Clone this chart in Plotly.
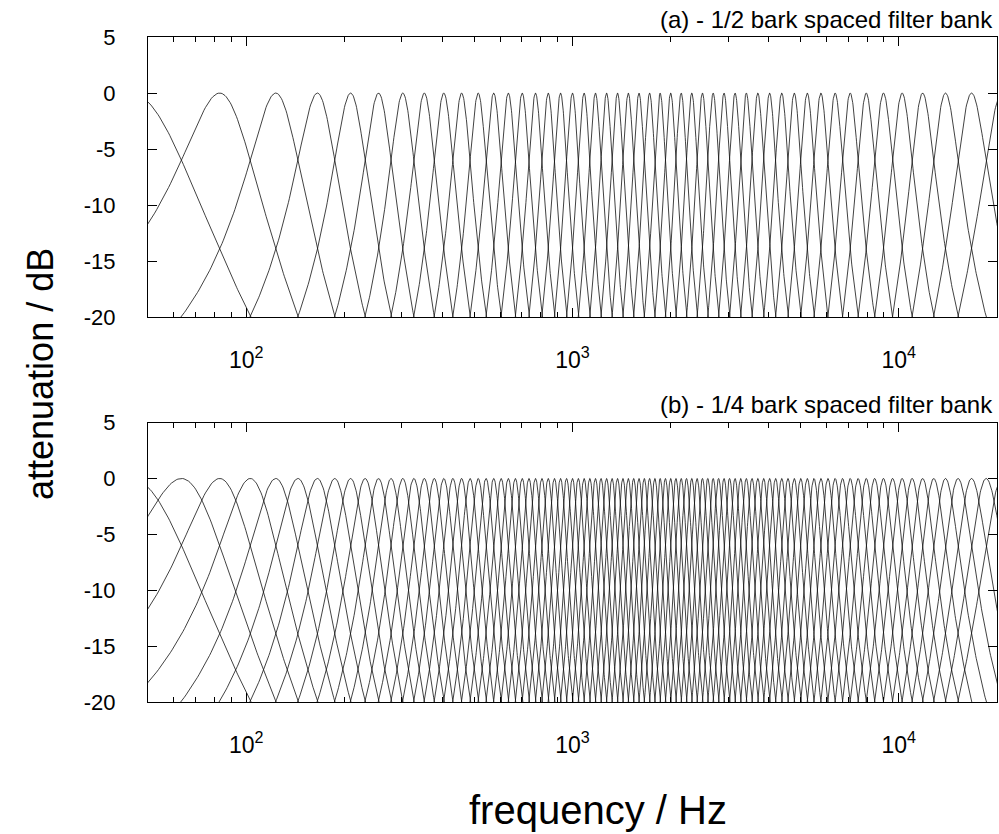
import numpy as np
import plotly.graph_objects as go

# Centre frequencies (Hz)
centres_half_bark = [44.1, 82.9, 123.2, 165.2, 208.9, 254.4, 301.9, 351.4, 403.2, 457.3,
                     514.0, 573.4, 635.7, 701.2, 770.0, 842.5, 919.0, 999.8, 1085.2, 1175.7,
                     1271.7, 1373.8, 1482.6, 1598.7, 1722.9, 1856.1, 1999.3, 2153.6, 2320.5, 2501.5,
                     2698.5, 2913.6, 3149.7, 3409.7, 3697.6, 4018.1, 4377.1, 4782.1, 5242.3, 5769.9,
                     6380.9, 7096.8, 7947.2, 8973.8, 10237.7, 11832.0, 13905.8, 16713.6, 20729.0]

centres_quarter_bark = [44.1, 63.3, 82.9, 102.9, 123.2, 144.0, 165.2, 186.8, 208.9, 231.4,
                        254.4, 277.9, 301.9, 326.4, 351.4, 377.0, 403.2, 429.9, 457.3, 485.3,
                        514.0, 543.3, 573.4, 604.2, 635.7, 668.0, 701.2, 735.2, 770.0, 805.8,
                        842.5, 880.3, 919.0, 958.8, 999.8, 1041.9, 1085.2, 1129.8, 1175.7, 1223.0,
                        1271.7, 1322.0, 1373.8, 1427.3, 1482.6, 1539.7, 1598.7, 1659.7, 1722.9, 1788.3,
                        1856.1, 1926.4, 1999.3, 2075.0, 2153.6, 2235.4, 2320.5, 2409.1, 2501.5, 2597.8,
                        2698.5, 2803.6, 2913.6, 3028.9, 3149.7, 3276.5, 3409.7, 3549.9, 3697.6, 3853.4,
                        4018.1, 4192.4, 4377.1, 4573.3, 4782.1, 5004.6, 5242.3, 5496.7, 5769.9, 6063.8,
                        6380.9, 6724.1, 7096.8, 7502.9, 7947.2, 8435.2, 8973.8, 9571.2, 10237.7, 10986.0,
                        11832.0, 12796.4, 13905.8, 15195.6, 16713.6, 18526.4, 20728.9]

filter_width_bark = 0.25

x_tickvals = [100, 1000, 10000]
x_ticktext = ["10<sup>2</sup>", "10<sup>3</sup>", "10<sup>4</sup>"]
x_minor = [60, 70, 80, 90, 200, 300, 400, 500, 600, 700, 800, 900,
           2000, 3000, 4000, 5000, 6000, 7000, 8000, 9000]
y_tickvals = [5, 0, -5, -10, -15, -20]
y_ticktext = ["5", "0", "-5", "-10", "-15", "-20"]

titles = ["(a) - 1/2 bark spaced filter bank", "(b) - 1/4 bark spaced filter bank"]


def bark(f):
    return 26.81 * f / (1960.0 + f) - 0.53


def hz(z):
    return 1960.0 * (z + 0.53) / (26.28 - z)


def bank(centres):
    xs, ys = [], []
    for fc in centres:
        zc = bark(fc)
        z = np.linspace(max(zc - 1.0, -0.45), min(zc + 1.0, 26.0), 201)
        f = hz(z)
        db = -20 * np.log10(1 + ((z - zc) / filter_width_bark) ** 2)
        xs += list(f) + [None]
        ys += list(db) + [None]
    return xs, ys


FONT = "Liberation Sans, Arial, Helvetica, sans-serif"

fig = go.Figure()
xa, ya = bank(centres_half_bark)
fig.add_trace(go.Scatter(x=xa, y=ya, mode="lines", line=dict(color="#111", width=0.8),
                         xaxis="x", yaxis="y", showlegend=False, hoverinfo="skip"))
xb, yb = bank(centres_quarter_bark)
fig.add_trace(go.Scatter(x=xb, y=yb, mode="lines", line=dict(color="#111", width=0.8),
                         xaxis="x2", yaxis="y2", showlegend=False, hoverinfo="skip"))

W, H = 999, 834
left_m, top_m, bot_m = 148, 37, 132
right_m = W - left_m - 849
ph = H - top_m - bot_m
dom_a = [1 - 280.3 / ph, 1]
dom_b = [0, 279.4 / ph]

xcommon = dict(type="log", range=[np.log10(50), np.log10(20000)],
               tickvals=x_tickvals, ticktext=x_ticktext,
               ticks="inside", ticklen=9, tickwidth=1, tickcolor="black",
               minor=dict(tickvals=x_minor, ticks="inside", ticklen=5, tickcolor="black", tickwidth=1),
               showline=True, linecolor="black", linewidth=1, mirror="allticks",
               showgrid=False, zeroline=False,
               tickfont=dict(family=FONT, size=23, color="black"),
               ticklabelstandoff=22)
ycommon = dict(range=[-20, 5], tickvals=y_tickvals, ticktext=y_ticktext,
               ticks="inside", ticklen=9, tickwidth=1, tickcolor="black",
               showline=True, linecolor="black", linewidth=1, mirror="allticks",
               showgrid=False, zeroline=False,
               tickfont=dict(family=FONT, size=22, color="black"),
               ticklabelstandoff=27)

fig.update_layout(
    width=W, height=H,
    margin=dict(l=left_m, r=right_m, t=top_m, b=bot_m, pad=0),
    paper_bgcolor="white", plot_bgcolor="white",
    xaxis=dict(domain=[0, 1], anchor="y", **xcommon),
    yaxis=dict(domain=dom_a, anchor="x", **ycommon),
    xaxis2=dict(domain=[0, 1], anchor="y2", **xcommon),
    yaxis2=dict(domain=dom_b, anchor="x2", **ycommon),
    annotations=[
        dict(text=titles[0], x=1, y=dom_a[1], xref="paper", yref="paper",
             xanchor="right", yanchor="middle", xshift=-2, yshift=18, showarrow=False,
             font=dict(family=FONT, size=24, color="black")),
        dict(text=titles[1], x=1, y=dom_b[1], xref="paper", yref="paper",
             xanchor="right", yanchor="middle", xshift=-2, yshift=18, showarrow=False,
             font=dict(family=FONT, size=24, color="black")),
        dict(text="attenuation / dB", x=(40 - 148) / 849, y=(834 - 132 - 374) / ph,
             xref="paper", yref="paper", xanchor="center", yanchor="middle",
             textangle=-90, showarrow=False, font=dict(family=FONT, size=36, color="black")),
        dict(text="frequency / Hz", x=(598 - 148) / 849, y=(834 - 132 - 810) / ph,
             xref="paper", yref="paper", xanchor="center", yanchor="middle",
             showarrow=False, font=dict(family=FONT, size=40, color="black")),
    ],
)

# remove the default page margin so the 999x834 figure fills the window exactly
fig.write_html("out.html", config={"displayModeBar": False},
               post_script="document.body.style.margin='0';document.body.style.overflow='hidden';")
